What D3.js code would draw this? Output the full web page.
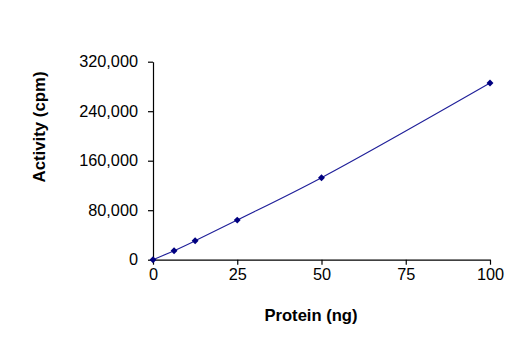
<!DOCTYPE html>
<html>
<head>
<meta charset="utf-8">
<script src="https://cdn.jsdelivr.net/npm/d3@7"></script>
<style>
  body { margin: 0; background: #fff; }
  text { font-family: "Liberation Sans", Arial, sans-serif; fill: #000; }
</style>
</head>
<body>
<svg id="chart" width="527" height="352"></svg>
<script>
// Données
const protein = [0, 6.25, 12.5, 25, 50, 100];
const activity = [0, 14500, 30500, 64000, 132500, 285500];
const xTicks = [0, 25, 50, 75, 100];
const yTicks = [0, 80000, 160000, 240000, 320000];

const svg = d3.select("#chart");

const x = d3.scaleLinear().domain([0, 100]).range([153, 490]);
const y = d3.scaleLinear().domain([0, 320000]).range([259.7, 61.7]);

const points = protein.map((p, i) => ({ x: p, y: activity[i] }));

// Axe X
const xAxis = svg.append("g")
    .attr("transform", `translate(0,${y(0)})`)
    .call(d3.axisBottom(x).tickValues(xTicks).tickSize(5).tickPadding(4).tickSizeOuter(0));

// Axe Y
const yAxis = svg.append("g")
    .attr("transform", `translate(${x(0)},0)`)
    .call(d3.axisLeft(y).tickValues(yTicks).tickSize(5).tickPadding(10)
        .tickFormat(d3.format(",")).tickSizeOuter(0));

[xAxis, yAxis].forEach(g => {
    g.selectAll("path, line").attr("stroke", "#000").attr("stroke-width", 1.2);
    g.selectAll("text").attr("font-size", 16.3)
        .style("font-family", '"Liberation Sans", Arial, sans-serif');
});

// Courbe lissée
const line = d3.line()
    .x(d => x(d.x))
    .y(d => y(d.y))
    .curve(d3.curveCatmullRom.alpha(0.5));

svg.append("path")
    .datum(points)
    .attr("d", line)
    .attr("fill", "none")
    .attr("stroke", "#1f1f99")
    .attr("stroke-width", 1.1);

// Marqueurs (losanges : carré tourné de 45°)
svg.selectAll(".pt")
    .data(points)
    .enter()
    .append("path")
    .attr("class", "pt")
    .attr("d", d3.symbol().type(d3.symbolSquare).size(24))
    .attr("transform", d => `translate(${x(d.x)},${y(d.y)}) rotate(45)`)
    .attr("fill", "#000080");

// Titres des axes
svg.append("text")
    .attr("x", 311)
    .attr("y", 321)
    .attr("text-anchor", "middle")
    .attr("font-size", 16.6)
    .attr("font-weight", "bold")
    .text("Protein (ng)");

svg.append("text")
    .attr("transform", "translate(45,127) rotate(-90)")
    .attr("text-anchor", "middle")
    .attr("font-size", 16.8)
    .attr("font-weight", "bold")
    .text("Activity (cpm)");
</script>
</body>
</html>
